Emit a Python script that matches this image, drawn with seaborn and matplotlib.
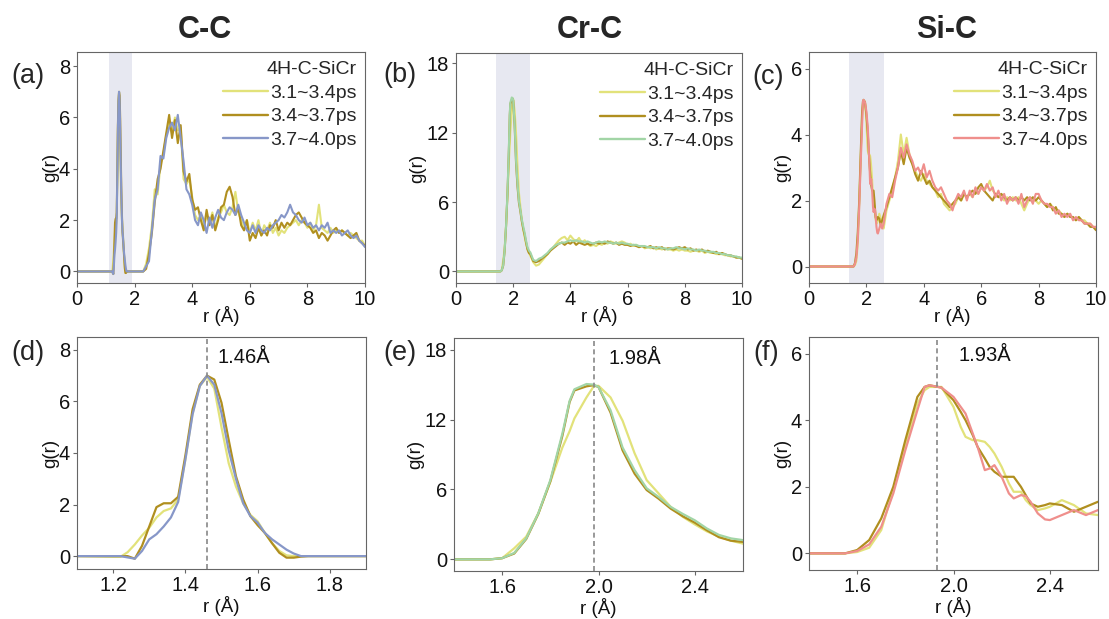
import numpy as np
import pandas as pd
import matplotlib
matplotlib.use("Agg")
import matplotlib.pyplot as plt
from matplotlib.ticker import FormatStrFormatter
import seaborn as sns

# ---------------- data ----------------
SERIES = ["3.1~3.4ps", "3.4~3.7ps", "3.7~4.0ps"]
LEGEND_TITLE = "4H-C-SiCr"
TITLES = ["C-C", "Cr-C", "Si-C"]
PANEL_LABELS = ["(a)", "(b)", "(c)", "(d)", "(e)", "(f)"]
PEAKS = [1.46, 1.98, 1.93]
PEAK_TEXT = ["1.46Å", "1.98Å", "1.93Å"]

# ---- C-C : first-peak detail (panel d) ----
X_D = [1.1, 1.2, 1.22, 1.24, 1.26, 1.28, 1.3, 1.32, 1.34, 1.36, 1.38, 1.4, 1.42, 1.44, 1.46,
       1.48, 1.5, 1.52, 1.54, 1.56, 1.58, 1.6, 1.62, 1.64, 1.66, 1.68, 1.7, 1.72, 1.74, 1.8, 1.9]
CC_Y1 = [0, -0.03, -0.03, 0.15, 0.45, 0.8, 1.1, 1.5, 1.75, 1.85, 2.2, 3.75, 5.55, 6.6, 6.95,
         6.5, 5.0, 3.6, 2.7, 2.05, 1.6, 1.35, 0.9, 0.5, 0.2, 0.03, 0, 0, 0, 0, 0]
CC_Y2 = [0, 0, 0, 0, -0.1, 0.4, 1.15, 1.9, 2.05, 2.05, 2.3, 3.9, 5.7, 6.65, 7.0,
         6.85, 5.95, 4.5, 3.1, 2.2, 1.55, 1.2, 0.9, 0.5, 0.13, -0.06, -0.06, -0.02, 0, 0, 0]
CC_Y3 = [0, 0, 0, -0.05, -0.1, 0.2, 0.65, 0.85, 1.15, 1.5, 2.1, 3.75, 5.5, 6.6, 7.0,
         6.65, 5.55, 4.1, 3.0, 2.05, 1.55, 1.3, 0.9, 0.65, 0.45, 0.25, 0.1, 0, 0, 0, 0]

# ---- C-C : long range (panel a), r = 2.4 ... 10.0 step 0.1 ----
X_FAR_A = [round(2.4 + 0.1 * i, 1) for i in range(77)]
CC_F1 = [0.3, 0.9, 1.8, 3.2, 3.0, 4.2, 4.6, 5.3, 5.8, 5.4, 6.0, 5.5, 5.6, 3.6, 3.4, 3.6, 2.9, 2.2,
         2.0, 2.2, 1.7, 2.2, 1.9, 2.3, 1.7, 2.1, 2.3, 2.6, 2.3, 2.2, 2.5, 3.1, 2.3, 2.0, 1.7, 2.0,
         1.5, 1.9, 1.6, 2.0, 1.4, 1.8, 1.6, 1.9, 1.5, 1.7, 1.4, 1.6, 1.5, 1.7, 1.8, 1.9, 2.0, 1.8,
         2.0, 1.9, 1.7, 1.9, 1.6, 1.8, 2.6, 1.7, 1.6, 1.5, 1.7, 1.5, 1.6, 1.5, 1.6, 1.5, 1.4, 1.5,
         1.4, 1.3, 1.2, 1.2, 1.0]
CC_F2 = [0.1, 0.7, 1.5, 2.7, 3.6, 4.0, 4.7, 5.4, 6.1, 5.2, 5.9, 5.0, 5.7, 3.9, 3.5, 3.8, 2.8, 2.4,
         2.5, 2.0, 1.6, 2.4, 1.8, 2.2, 1.6, 2.0, 2.5, 2.6, 3.1, 3.3, 2.9, 2.2, 2.5, 1.8, 1.6, 2.0,
         1.2, 1.5, 1.3, 1.7, 1.4, 1.6, 1.4, 1.8, 1.7, 2.0, 1.6, 1.9, 1.7, 1.9, 1.8, 2.0, 2.2, 2.3,
         2.1, 1.9, 1.8, 1.7, 1.5, 1.6, 1.3, 1.5, 1.4, 1.2, 1.4, 1.6, 1.7, 1.5, 1.6, 1.5, 1.4, 1.3,
         1.4, 1.5, 1.2, 1.1, 1.0]
CC_F3 = [0.2, 0.4, 1.6, 2.8, 3.2, 4.5, 4.4, 5.2, 5.6, 5.8, 5.5, 6.1, 5.2, 4.3, 3.2, 3.0, 2.6, 2.0,
         1.8, 2.3, 2.0, 1.5, 2.1, 1.7, 2.1, 2.4, 2.1, 2.0, 2.3, 2.5, 2.4, 2.2, 2.6, 2.2, 1.9, 1.6,
         1.5, 1.8, 1.5, 1.8, 1.6, 1.5, 1.7, 1.6, 1.8, 1.9, 2.0, 2.2, 2.1, 2.3, 2.6, 2.3, 2.2, 2.0,
         1.9, 2.1, 1.8, 1.9, 1.7, 1.8, 1.6, 1.8, 1.7, 1.9, 1.5, 1.6, 1.5, 1.6, 1.4, 1.5, 1.6, 1.4,
         1.3, 1.4, 1.2, 1.1, 0.95]

# ---- Cr-C : first-peak detail (panel e) ----
X_E = [1.4, 1.55, 1.6, 1.65, 1.7, 1.75, 1.8, 1.85, 1.88, 1.9, 1.95, 1.98, 2.0, 2.05, 2.1, 2.15,
       2.2, 2.25, 2.3, 2.35, 2.4, 2.45, 2.5, 2.55, 2.6]
CR_Y1 = [0, 0, 0.1, 0.95, 1.95, 3.95, 6.65, 9.6, 11.0, 12.1, 13.9, 14.85, 14.9, 13.9, 11.9, 9.1,
         6.8, 5.65, 4.5, 3.65, 3.0, 2.4, 1.95, 1.6, 1.35]
CR_Y2 = [0, 0, 0.1, 0.5, 1.75, 3.9, 6.7, 10.6, 13.5, 14.5, 14.85, 14.95, 14.8, 12.6, 9.35, 7.35,
         5.95, 5.2, 4.35, 3.7, 3.15, 2.5, 1.9, 1.6, 1.5]
CR_Y3 = [0, 0, 0.1, 0.55, 1.8, 3.95, 6.8, 10.8, 13.6, 14.6, 15.05, 15.0, 14.8, 12.8, 9.6, 7.65,
         6.1, 5.35, 4.5, 3.9, 3.35, 2.65, 2.1, 1.8, 1.65]

# ---- long range for Cr-C and Si-C, r = 2.7 ... 10.0 step 0.1 ----
X_FAR_BC = [round(2.7 + 0.1 * i, 1) for i in range(74)]
CR_F1 = [0.8, 0.5, 0.6, 0.9, 1.2, 1.5, 1.8, 2.1, 2.4, 2.7, 2.9, 3.0, 2.7, 3.1, 2.8, 2.6, 2.9, 2.5,
         2.7, 2.4, 2.2, 2.3, 2.2, 2.4, 2.3, 2.5, 2.4, 2.6, 2.5, 2.4, 2.5, 2.6, 2.5, 2.3, 2.4, 2.2,
         2.3, 2.1, 2.2, 2.0, 2.1, 2.0, 2.1, 1.9, 2.0, 1.9, 2.0, 1.9, 1.9, 1.8, 1.9, 1.8, 1.9, 1.8,
         1.8, 1.7, 1.8, 1.8, 1.7, 1.8, 1.6, 1.7, 1.6, 1.6, 1.5, 1.5, 1.5, 1.4, 1.4, 1.3, 1.3, 1.2,
         1.2, 1.1]
CR_F2 = [0.9, 0.8, 0.9, 1.1, 1.3, 1.5, 1.8, 2.0, 2.2, 2.4, 2.5, 2.3, 2.5, 2.4, 2.6, 2.3, 2.5, 2.4,
         2.3, 2.4, 2.3, 2.4, 2.5, 2.4, 2.5, 2.4, 2.6, 2.5, 2.4, 2.5, 2.3, 2.4, 2.3, 2.3, 2.2, 2.3,
         2.2, 2.1, 2.2, 2.1, 2.1, 2.2, 2.0, 2.1, 2.0, 2.1, 1.9, 2.0, 2.0, 1.9, 2.0, 2.1, 2.0, 2.1,
         1.9, 2.0, 1.8, 1.9, 1.8, 1.9, 1.7, 1.8, 1.7, 1.6, 1.7, 1.5, 1.6, 1.5, 1.4, 1.4, 1.3, 1.2,
         1.2, 1.1]
CR_F3 = [1.0, 0.9, 1.1, 1.2, 1.4, 1.6, 1.9, 2.1, 2.3, 2.4, 2.5, 2.5, 2.6, 2.7, 2.6, 2.7, 2.6, 2.6,
         2.5, 2.6, 2.5, 2.4, 2.5, 2.6, 2.5, 2.6, 2.5, 2.5, 2.4, 2.5, 2.4, 2.5, 2.4, 2.4, 2.3, 2.3,
         2.3, 2.2, 2.2, 2.2, 2.1, 2.1, 2.1, 2.0, 2.1, 2.0, 2.0, 1.9, 2.0, 2.0, 2.1, 2.0, 2.0, 1.9,
         2.0, 1.9, 1.9, 1.8, 1.9, 1.8, 1.8, 1.7, 1.7, 1.7, 1.6, 1.6, 1.5, 1.5, 1.4, 1.4, 1.3, 1.3,
         1.2, 1.2]

# ---- Si-C : first-peak detail (panel f) ----
X_F = [1.4, 1.55, 1.6, 1.65, 1.7, 1.75, 1.8, 1.85, 1.88, 1.9, 1.95, 2.0, 2.03, 2.05, 2.08, 2.1,
       2.13, 2.15, 2.17, 2.2, 2.23, 2.25, 2.28, 2.3, 2.32, 2.35, 2.38, 2.4, 2.45, 2.5, 2.55, 2.6]
SI_Y1 = [0, 0, 0.04, 0.17, 0.7, 1.9, 3.2, 4.5, 4.9, 5.0, 5.0, 4.4, 3.8, 3.5, 3.4, 3.4,
         3.35, 3.2, 3.0, 2.6, 2.1, 1.85, 1.85, 1.6, 1.45, 1.3, 1.35, 1.4, 1.6, 1.45, 1.2, 1.15]
SI_Y2 = [0, 0, 0.1, 0.4, 1.05, 2.0, 3.4, 4.7, 5.0, 5.05, 4.98, 4.6, 4.25, 4.0, 3.55, 3.2,
         2.85, 2.6, 2.45, 2.3, 2.3, 2.3, 2.0, 1.75, 1.5, 1.4, 1.45, 1.5, 1.45, 1.25, 1.4, 1.55]
SI_Y3 = [0, 0, 0.07, 0.27, 0.8, 1.8, 3.1, 4.3, 5.0, 5.05, 4.98, 4.7, 4.4, 4.2, 3.6, 3.2,
         2.5, 2.55, 2.65, 2.3, 1.8, 1.65, 1.75, 1.72, 1.55, 1.2, 1.02, 1.0, 1.15, 1.3, 1.15, 1.3]
SI_F1 = [1.7, 2.0, 2.3, 2.7, 3.2, 4.0, 3.4, 3.9, 3.4, 3.1, 2.9, 2.7, 2.6, 2.8, 2.6, 2.5, 2.4, 2.3,
         2.1, 2.2, 1.9, 1.8, 1.7, 1.8, 1.9, 2.1, 2.0, 2.2, 2.1, 2.2, 2.1, 2.3, 2.2, 2.4, 2.3, 2.4,
         2.6, 2.3, 2.2, 2.1, 2.2, 2.0, 2.1, 2.0, 2.1, 2.0, 2.1, 1.9, 1.7, 1.9, 2.1, 2.0, 2.0, 1.9,
         2.0, 1.9, 1.8, 1.9, 1.8, 1.7, 1.7, 1.6, 1.5, 1.6, 1.5, 1.5, 1.4, 1.5, 1.4, 1.4, 1.3, 1.3,
         1.2, 1.2]
SI_F2 = [1.8, 2.1, 2.4, 2.7, 3.0, 3.5, 3.1, 3.6, 3.3, 3.1, 2.8, 2.6, 2.9, 2.7, 2.5, 2.6, 2.4, 2.3,
         2.2, 2.1, 2.0, 1.9, 1.8, 1.9, 2.0, 2.1, 2.0, 2.2, 2.1, 2.2, 2.3, 2.2, 2.4, 2.5, 2.3, 2.2,
         2.1, 2.0, 2.2, 2.1, 2.2, 2.1, 2.0, 2.1, 2.0, 2.1, 2.0, 2.1, 2.0, 2.1, 2.0, 2.1, 2.0, 2.1,
         2.0, 1.9, 1.8, 1.9, 1.7, 1.8, 1.6, 1.6, 1.5, 1.6, 1.5, 1.5, 1.4, 1.5, 1.4, 1.3, 1.3, 1.2,
         1.2, 1.1]
SI_F3 = [1.9, 2.2, 2.1, 2.6, 3.0, 3.6, 3.3, 3.7, 3.4, 3.2, 2.9, 3.0, 2.8, 3.1, 2.7, 2.9, 2.6, 2.4,
         2.3, 2.4, 2.2, 2.0, 1.9, 1.7, 2.0, 2.2, 2.1, 2.3, 2.0, 2.3, 2.1, 2.4, 2.2, 2.4, 2.3, 2.5,
         2.3, 2.4, 2.1, 2.3, 2.0, 2.2, 1.9, 2.1, 2.0, 2.1, 1.9, 2.2, 1.8, 2.0, 2.1, 1.9, 2.2, 2.2,
         2.0, 1.9, 1.9, 1.8, 1.8, 1.6, 1.7, 1.5, 1.6, 1.5, 1.6, 1.4, 1.5, 1.4, 1.4, 1.3, 1.3, 1.3,
         1.2, 1.2]

# ---------------- style ----------------
YEL, OLV, BLU, GRN, PNK = "#e2e27a", "#b08f1f", "#8797c8", "#a2d5a6", "#ef8f8c"
PALETTES = [[YEL, OLV, BLU], [YEL, OLV, GRN], [YEL, OLV, PNK]]
SHADE = "#e7e8f1"
SPINE = "#666666"

sns.set_theme(style="ticks")
plt.rcParams["font.family"] = ["Liberation Sans", "DejaVu Sans"]
plt.rcParams["axes.linewidth"] = 0.8

W, H = 1109, 619
fig = plt.figure(figsize=(W / 100, H / 100), dpi=100)


def rect(l, t, r, b):
    return [l / W, 1 - b / H, (r - l) / W, (b - t) / H]


top_rects = [rect(77, 52, 365, 283), rect(456, 53, 742, 283), rect(809, 52, 1096, 283)]
bot_rects = [rect(77, 337, 366, 569), rect(454, 338, 743, 571), rect(809, 337, 1098, 570)]

near = [(X_D, [CC_Y1, CC_Y2, CC_Y3]), (X_E, [CR_Y1, CR_Y2, CR_Y3]), (X_F, [SI_Y1, SI_Y2, SI_Y3])]
far = [(X_FAR_A, [CC_F1, CC_F2, CC_F3]), (X_FAR_BC, [CR_F1, CR_F2, CR_F3]),
       (X_FAR_BC, [SI_F1, SI_F2, SI_F3])]
gap_pts = [[2.3], [], []]  # r-values where g(r) is still zero before the long-range part
top_ylims = [(-0.45, 8.55), (-1.0, 18.9), (-0.5, 6.5)]
bot_ylims = [(-0.5, 8.5), (-1.0, 19.0), (-0.5, 6.5)]
yticks = [[0, 2, 4, 6, 8], [0, 6, 12, 18], [0, 2, 4, 6]]
bot_xlims = [(1.1, 1.9), (1.4, 2.6), (1.4, 2.6)]
bot_xticks = [[1.2, 1.4, 1.6, 1.8], [1.6, 2.0, 2.4], [1.6, 2.0, 2.4]]
txt_pos = [(1.49, 7.7), (2.04, 17.2), (2.02, 5.93)]


def style_ax(ax, xpad):
    ax.tick_params(axis="both", labelsize=14.5, length=3, width=0.8, color=SPINE,
                   pad=2, labelcolor="#111111")
    for s in ax.spines.values():
        s.set_color(SPINE)
        s.set_linewidth(0.8)
    ax.set_xlabel("r (Å)", fontsize=13.5, labelpad=xpad, color="#111111")
    ax.set_ylabel("g(r)", fontsize=13.5, labelpad=0, color="#111111")


for k in range(3):
    xn, yn = near[k]
    xf, yf = far[k]
    # ---- top row: full range ----
    ax = fig.add_axes(top_rects[k])
    rows = []
    for s, name in enumerate(SERIES):
        xs = [0.0] + list(xn) + gap_pts[k] + list(xf)
        ys = [0.0] + list(yn[s]) + [0.0] * len(gap_pts[k]) + list(yf[s])
        rows.append(pd.DataFrame({"r": xs, "g": ys, "t": name}))
    df = pd.concat(rows, ignore_index=True)
    ax.axvspan(bot_xlims[k][0], bot_xlims[k][1], color=SHADE, lw=0, zorder=0)
    sns.lineplot(data=df, x="r", y="g", hue="t", palette=PALETTES[k], estimator=None,
                 sort=False, lw=1.5, ax=ax, legend=False)
    ax.set_xlim(0, 10)
    ax.set_ylim(*top_ylims[k])
    ax.set_xticks([0, 2, 4, 6, 8, 10])
    ax.set_yticks(yticks[k])
    style_ax(ax, -2)
    handles = [matplotlib.lines.Line2D([], [], color=c, lw=1.7) for c in PALETTES[k]]
    ax.legend(handles, SERIES, title=LEGEND_TITLE, loc="upper right", frameon=False,
              fontsize=14, title_fontsize=14, handlelength=2.3, handletextpad=0.1,
              labelspacing=0.32, borderaxespad=0.15, borderpad=0.3, alignment="right")

    # ---- bottom row: first-peak detail ----
    ax2 = fig.add_axes(bot_rects[k])
    rows = [pd.DataFrame({"r": xn, "g": yn[s], "t": name}) for s, name in enumerate(SERIES)]
    df2 = pd.concat(rows, ignore_index=True)
    sns.lineplot(data=df2, x="r", y="g", hue="t", palette=PALETTES[k], estimator=None,
                 sort=False, lw=1.6, ax=ax2, legend=False)
    ax2.axvline(PEAKS[k], color="#888888", ls=(0, (3, 2)), lw=1.2, zorder=5)
    ax2.text(txt_pos[k][0], txt_pos[k][1], PEAK_TEXT[k], fontsize=14.5, va="center",
             ha="left", color="#111111")
    ax2.set_xlim(*bot_xlims[k])
    ax2.set_ylim(*bot_ylims[k])
    ax2.set_xticks(bot_xticks[k])
    ax2.xaxis.set_major_formatter(FormatStrFormatter("%.1f"))
    ax2.set_yticks(yticks[k])
    style_ax(ax2, 0.5)

# titles and panel labels
for x, t in zip([205, 590, 947], TITLES):
    fig.text(x / W, 1 - 30 / H, t, fontsize=22, fontweight="bold", ha="center", va="center")
lab_pos = [(28, 76), (400, 75), (768, 77), (28, 353), (400, 353), (766, 353)]
for (x, y), t in zip(lab_pos, PANEL_LABELS):
    fig.text(x / W, 1 - y / H, t, fontsize=19.5, ha="center", va="center")

fig.savefig("out.png", dpi=100)
